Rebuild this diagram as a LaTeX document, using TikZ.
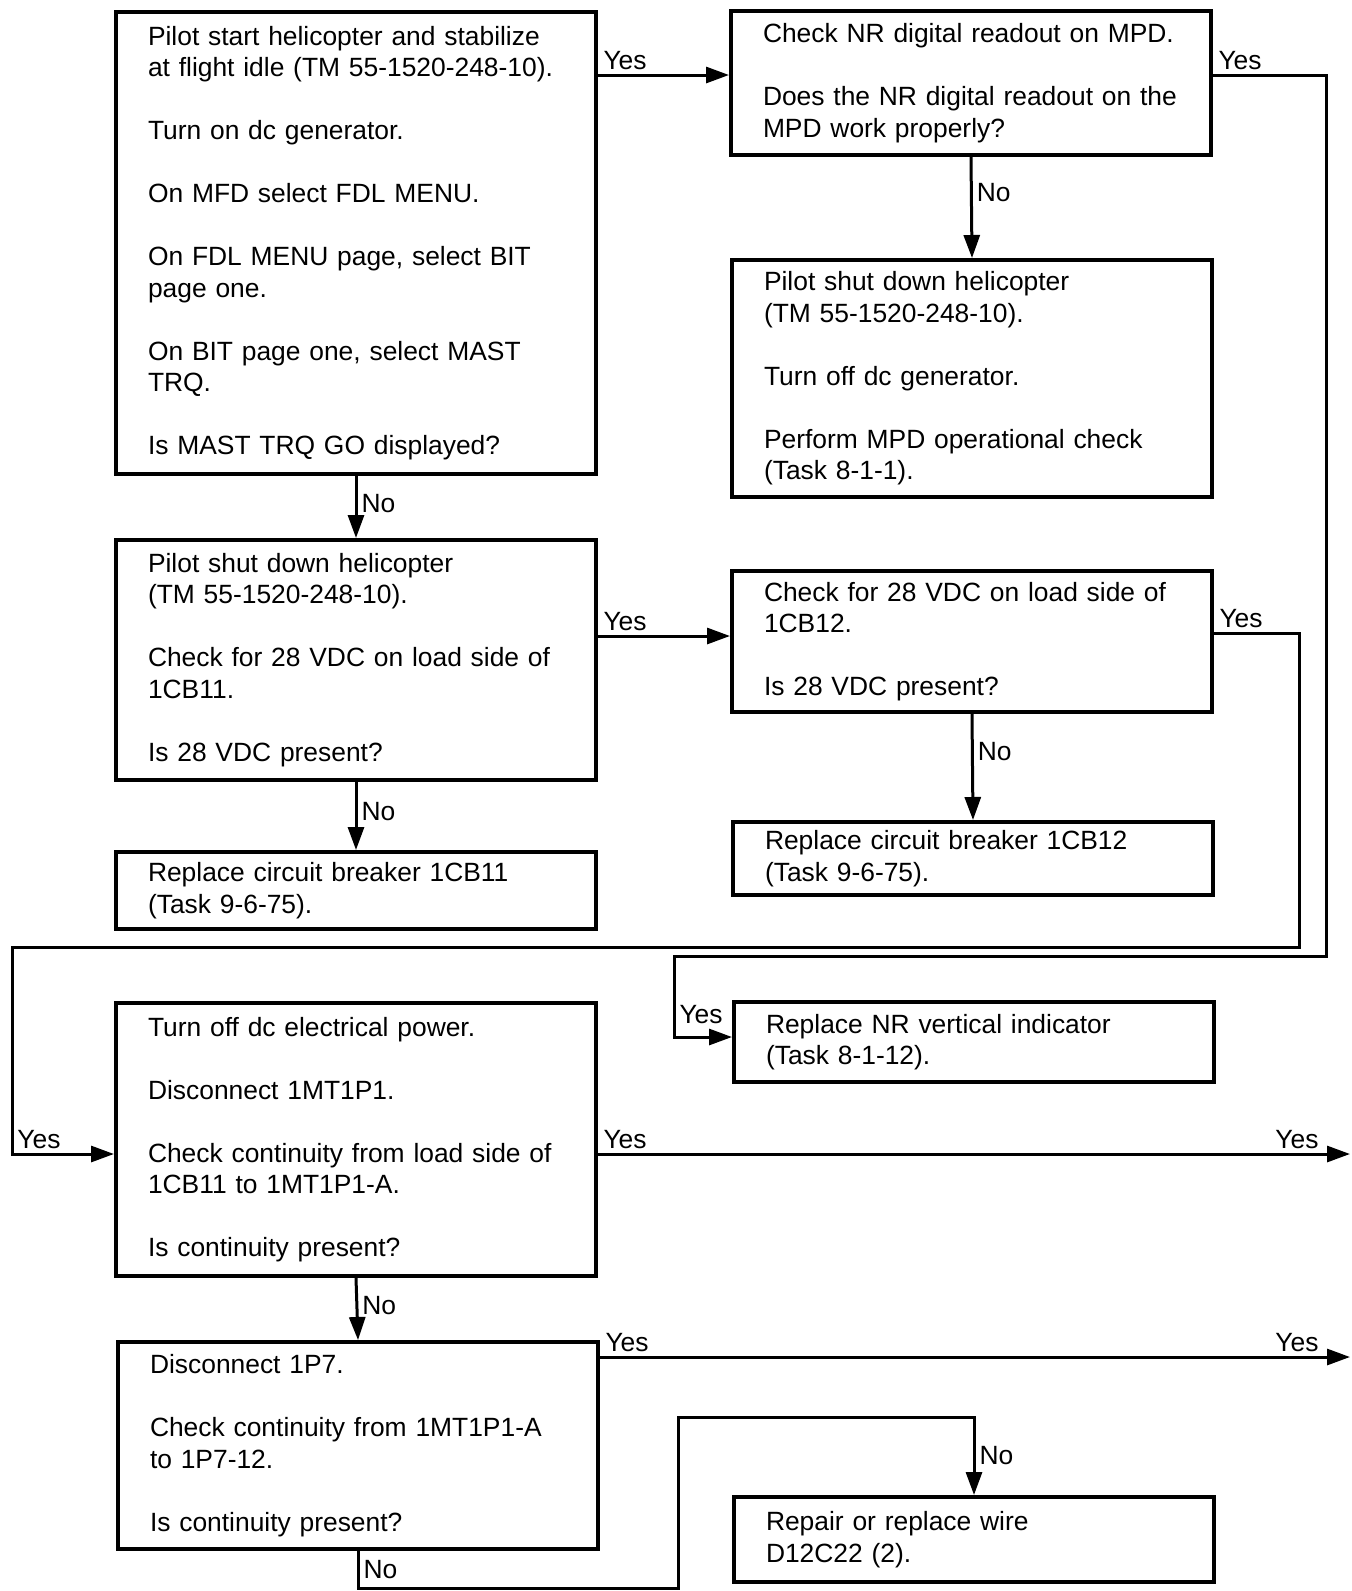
\documentclass[tikz,border=0pt]{standalone}
\usepackage{fontspec}
\setmainfont{Liberation Sans}
\usetikzlibrary{arrows.meta, positioning}

\begin{document}
\begin{tikzpicture}[x=0.5pt, y=-0.5pt,
  box/.style={draw, line width=2pt, anchor=north west, minimum width=240pt, text width=208pt,
    inner xsep=16pt, inner ysep=0pt, align=left, font=\fontsize{13.2}{15.75}\selectfont},
  flow/.style={line width=1.5pt, -{Triangle[length=11.5pt, width=8pt]}},
  lbl/.style={font=\fontsize{13.2}{15.75}\selectfont, inner sep=2pt}]
  \useasboundingbox (0,0) rectangle (1351,1591);

  % left column
  \node[box, minimum height=231pt] (start) at (114,10) {
    Pilot start helicopter and stabilize\\
    at flight idle (TM 55-1520-248-10).\\[\baselineskip]
    Turn on dc generator.\\[\baselineskip]
    On MFD select FDL MENU.\\[\baselineskip]
    On FDL MENU page, select BIT\\
    page one.\\[\baselineskip]
    On BIT page one, select MAST\\
    TRQ.\\[\baselineskip]
    Is MAST TRQ GO displayed?};
  \node[box, minimum height=120pt] (shutps) at (114,538) {
    Pilot shut down helicopter\\
    (TM 55-1520-248-10).\\[\baselineskip]
    Check for 28 VDC on load side of\\
    1CB11.\\[\baselineskip]
    Is 28 VDC present?};
  \node[box, minimum height=38.5pt] (cb11rep) at (114,850) {
    Replace circuit breaker 1CB11\\
    (Task 9-6-75).};
  \node[box, minimum height=136.5pt] (contA) at (114,1001) {
    Turn off dc electrical power.\\[\baselineskip]
    Disconnect 1MT1P1.\\[\baselineskip]
    Check continuity from load side of\\
    1CB11 to 1MT1P1-A.\\[\baselineskip]
    Is continuity present?};
  \node[box, minimum height=103.5pt] (contB) at (116,1340) {
    Disconnect 1P7.\\[\baselineskip]
    Check continuity from 1MT1P1-A\\
    to 1P7-12.\\[\baselineskip]
    Is continuity present?};

  % right column
  \node[box, minimum height=72pt] (nrchk) at (729,9) {
    Check NR digital readout on MPD.\\[\baselineskip]
    Does the NR digital readout on the\\
    MPD work properly?};
  \node[box, minimum height=118.5pt] (shutnr) at (730,258) {
    Pilot shut down helicopter\\
    (TM 55-1520-248-10).\\[\baselineskip]
    Turn off dc generator.\\[\baselineskip]
    Perform MPD operational check\\
    (Task 8-1-1).};
  \node[box, minimum height=70.5pt] (cb12chk) at (730,569) {
    Check for 28 VDC on load side of\\
    1CB12.\\[\baselineskip]
    Is 28 VDC present?};
  \node[box, minimum height=36.5pt] (cb12rep) at (731,820) {
    Replace circuit breaker 1CB12\\
    (Task 9-6-75).};
  \node[box, minimum height=40pt] (indrep) at (732,1000) {
    Replace NR vertical indicator\\
    (Task 8-1-12).};
  \node[box, minimum height=42.5pt] (wire) at (732,1495) {
    Repair or replace wire\\
    D12C22 (2).};

  % bends
  \coordinate (ya) at (0,75);
  \coordinate (yb) at (0,633);
  \coordinate (yd) at (0,636);
  \coordinate (yc) at (0,1154);
  \coordinate (yf) at (0,1357);
  \coordinate (outer) at (1326,956);
  \coordinate (inner) at (1299,947);
  \coordinate (wrap) at (12,947);
  \coordinate (hook) at (674,1037);
  \coordinate (end1) at (1350,1154);
  \coordinate (end2) at (1350,1357);
  \coordinate (bottom) at (678,1588);
  \coordinate (loop) at (678,1417);

  \draw[flow] (start.east |- ya) -- node[lbl, pos=0, above right] {Yes} (nrchk.west |- ya);
  \draw[flow] (start.south) -- node[lbl, pos=0.44, right] {No} (shutps.north);
  \draw[flow] (nrchk.east |- ya) -- node[lbl, pos=0, above right] {Yes} (outer |- ya) -- (outer)
    -- (outer -| hook) -- (hook) -- node[lbl, pos=0, above right, yshift=4pt] {Yes} (indrep.west |- hook);
  \draw[flow] (nrchk.south) -- node[lbl, pos=0.35, right] {No} (shutnr.north);
  \draw[flow] (shutps.east |- yd) -- node[lbl, pos=0, above right] {Yes} (cb12chk.west |- yd);
  \draw[flow] (shutps.south) -- node[lbl, pos=0.44, right] {No} (cb11rep.north);
  \draw[flow] (cb12chk.south) -- node[lbl, pos=0.35, right] {No} (cb12rep.north);
  \draw[flow] (cb12chk.east |- yb) -- node[lbl, pos=0, above right] {Yes} (inner |- yb) -- (inner)
    -- (wrap) -- (wrap |- yc) -- node[lbl, pos=0, above right] {Yes} (contA.west |- yc);
  \draw[flow] (contA.east |- yc) -- node[lbl, pos=0, above right] {Yes}
    node[lbl, pos=1, above left, xshift=-13pt] {Yes} (end1);
  \draw[flow] (contA.south) -- node[lbl, pos=0.45, right] {No} (contB.north);
  \draw[flow] (contB.east |- yf) -- node[lbl, pos=0, above right] {Yes}
    node[lbl, pos=1, above left, xshift=-13pt] {Yes} (end2);
  \draw[flow] (contB.south) -- node[lbl, pos=0.5, right] {No} (contB.south |- bottom) -- (bottom)
    -- (loop) -- (loop -| wire.north) -- node[lbl, pos=0.5, right] {No} (wire.north);
\end{tikzpicture}
\end{document}
